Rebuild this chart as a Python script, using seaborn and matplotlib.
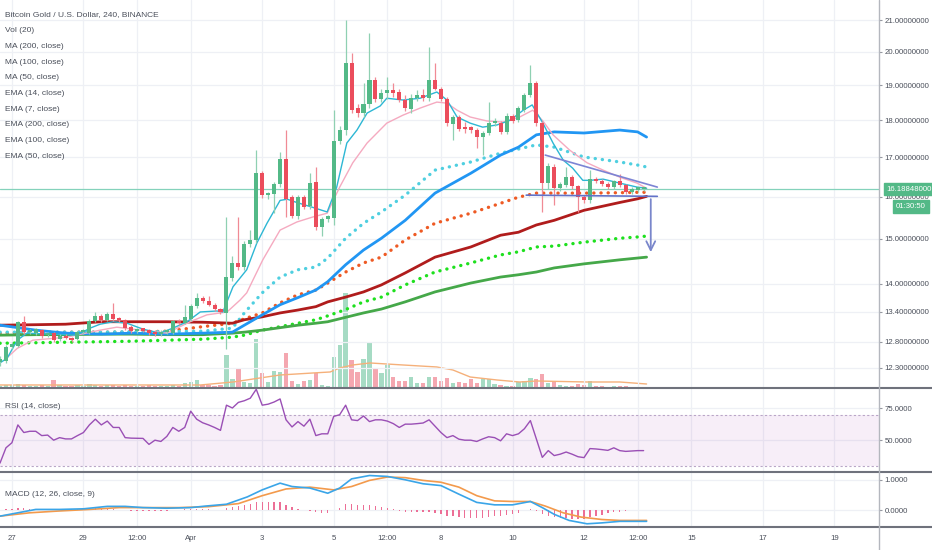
import numpy as np
import matplotlib
matplotlib.use("Agg")
import matplotlib.pyplot as plt
import matplotlib.transforms as mtransforms
from matplotlib.lines import Line2D
from matplotlib.ticker import NullLocator, FixedLocator, FixedFormatter
from matplotlib import font_manager
import seaborn as sns

# ---------------- data (4h candles, index 0 = Mar 26 16:00) ----------------
opens = [12.40, 12.42, 12.70, 12.72, 13.19, 12.99, 12.97, 13.03, 12.93, 12.97,
         12.85, 12.91, 12.87, 12.85, 12.99, 12.97, 13.21, 13.31, 13.23, 13.35,
         13.25, 13.23, 13.10, 13.01, 13.03, 13.03, 12.99, 12.95, 12.99, 12.97,
         13.21, 13.17, 13.25, 13.52, 13.70, 13.62, 13.55, 13.46, 13.38, 14.12,
         14.45, 14.36, 14.88, 14.97, 16.59, 16.04, 16.06, 16.31, 16.96, 15.99,
         15.53, 15.99, 15.77, 16.36, 15.27, 15.46, 15.48, 17.43, 17.73, 19.66,
         18.34, 18.20, 18.45, 19.15, 18.60, 18.77, 18.80, 18.80, 18.57, 18.31,
         18.63, 18.65, 18.63, 19.15, 18.89, 18.60, 17.90, 18.09, 17.76, 17.75,
         17.73, 17.54, 17.65, 17.92, 17.92, 17.68, 18.12, 18.00, 18.28, 18.71,
         19.06, 17.92, 16.34, 16.75, 16.21, 16.29, 16.49, 16.26, 15.99, 15.91,
         16.44, 16.39, 16.31, 16.24, 16.39, 16.29, 16.11, 16.17, 16.18]
highs = [12.52, 12.74, 12.80, 13.22, 13.31, 13.05, 13.08, 13.06, 13.00, 13.00,
         12.95, 12.95, 12.90, 13.02, 13.05, 13.25, 13.40, 13.36, 13.40, 13.58,
         13.30, 13.26, 13.14, 13.08, 13.07, 13.06, 13.03, 13.04, 13.05, 13.24,
         13.26, 13.55, 13.56, 13.80, 13.74, 13.74, 13.58, 13.49, 15.51, 14.60,
         15.51, 14.95, 15.20, 17.19, 16.65, 16.12, 16.36, 17.13, 17.73, 16.05,
         16.05, 16.05, 16.59, 16.75, 15.50, 15.55, 18.28, 17.85, 21.00, 19.97,
         18.45, 19.06, 20.59, 19.25, 18.90, 19.23, 19.05, 18.90, 18.70, 18.75,
         18.85, 18.90, 20.14, 19.66, 18.95, 18.65, 18.15, 18.15, 17.95, 17.85,
         17.80, 17.70, 18.51, 18.05, 17.98, 18.20, 18.18, 18.40, 18.78, 19.60,
         19.12, 17.98, 16.85, 16.82, 16.36, 16.75, 16.55, 16.30, 16.04, 16.67,
         16.50, 16.45, 16.36, 16.42, 16.57, 16.33, 16.24, 16.23, 16.22]
lows = [12.33, 12.38, 12.66, 12.70, 12.96, 12.95, 12.94, 12.88, 12.90, 12.80,
        12.82, 12.85, 12.80, 12.83, 12.96, 12.95, 13.19, 13.20, 13.21, 13.22,
        13.20, 13.04, 12.98, 12.98, 12.99, 12.94, 12.92, 12.92, 12.95, 12.95,
        13.14, 13.15, 13.22, 13.48, 13.58, 13.52, 13.43, 13.36, 12.66, 14.05,
        14.30, 14.30, 14.80, 14.90, 15.98, 15.95, 15.60, 16.25, 15.51, 15.48,
        15.45, 15.70, 15.70, 15.20, 15.06, 15.40, 15.32, 17.35, 17.60, 18.20,
        18.10, 18.10, 18.35, 18.50, 18.50, 18.60, 18.65, 18.50, 18.25, 18.20,
        18.55, 18.55, 18.55, 18.85, 18.55, 17.85, 17.46, 17.70, 17.65, 17.65,
        17.25, 17.06, 17.60, 17.85, 17.62, 17.62, 17.92, 17.95, 18.22, 18.65,
        17.85, 15.63, 16.20, 15.80, 16.15, 16.25, 16.20, 15.63, 15.85, 15.85,
        16.35, 16.27, 16.20, 16.20, 16.25, 16.06, 16.08, 16.13, 16.14]
closes = [12.47, 12.70, 12.74, 13.19, 12.99, 13.01, 13.05, 12.91, 12.97, 12.83,
          12.91, 12.87, 12.83, 12.99, 13.00, 13.21, 13.31, 13.23, 13.35, 13.25,
          13.23, 13.07, 13.01, 13.03, 13.02, 12.97, 12.95, 12.99, 13.00, 13.21,
          13.17, 13.29, 13.52, 13.70, 13.62, 13.55, 13.46, 13.40, 14.14, 14.45,
          14.36, 14.88, 14.97, 16.59, 16.04, 16.06, 16.31, 16.96, 15.94, 15.53,
          15.99, 15.74, 16.34, 15.27, 15.46, 15.48, 17.43, 17.73, 19.66, 18.28,
          18.20, 18.45, 19.15, 18.60, 18.77, 18.80, 18.78, 18.57, 18.34, 18.63,
          18.65, 18.63, 19.15, 18.89, 18.60, 17.92, 18.09, 17.76, 17.75, 17.73,
          17.54, 17.65, 17.92, 17.93, 17.68, 18.12, 17.98, 18.34, 18.71, 19.06,
          17.92, 16.34, 16.78, 16.21, 16.31, 16.49, 16.26, 15.99, 15.91, 16.44,
          16.39, 16.31, 16.24, 16.39, 16.29, 16.11, 16.19, 16.19, 16.19]
volume = [2, 3, 3, 4, 3, 2, 2, 3, 2, 8,
          3, 2, 2, 3, 2, 4, 3, 2, 3, 3,
          2, 3, 2, 2, 2, 3, 2, 2, 2, 3,
          2, 5, 6, 8, 3, 3, 2, 3, 33, 9,
          19, 6, 5, 49, 15, 6, 17, 16, 35, 7,
          4, 7, 8, 15, 3, 2, 31, 43, 95, 28,
          16, 29, 45, 20, 15, 23, 11, 7, 7, 11,
          5, 5, 11, 11, 7, 10, 5, 6, 5, 9,
          5, 9, 9, 4, 3, 2, 2, 6, 7, 10,
          9, 14, 5, 7, 3, 2, 2, 4, 3, 7,
          2, 2, 1, 2, 2, 2, 1, 1, 1]
vol_ma_x = [0, 33.6, 39.1, 47, 52.5, 55.4, 57, 59.2, 62.1, 67.6, 73.3, 76, 78.9, 83.4, 87.2, 90.1, 98.5, 104, 108.5]
vol_ma = [3, 3, 6, 13, 15, 16, 20, 23, 25, 23, 21, 18, 11, 8, 6, 7, 6, 6, 4]

# moving averages sampled along the chart (candle index, price)
ma_x = [0, 6, 11, 17, 22, 28, 34, 39, 41, 44, 47, 50, 53, 55, 58, 61, 64, 68, 73, 79, 84, 87, 90, 93, 98, 104, 107, 108.5]
ma50 = [13.13, 13.03, 12.97, 12.95, 12.97, 12.95, 12.97, 12.99, 13.13, 13.34, 13.55, 13.70, 13.86, 14.04,
        14.41, 14.74, 15.01, 15.43, 16.09, 16.59, 17.06, 17.27, 17.60, 17.68, 17.65, 17.73, 17.68, 17.54]
ma100 = [13.13, 13.14, 13.15, 13.20, 13.20, 13.20, 13.19, 13.17, 13.24, 13.30, 13.38, 13.44, 13.51, 13.61,
         13.71, 13.82, 13.97, 14.23, 14.58, 14.81, 15.08, 15.15, 15.32, 15.43, 15.67, 15.86, 15.95, 16.01]
ma200 = [12.93, 12.94, 12.94, 12.95, 12.95, 12.94, 12.94, 12.97, 12.99, 13.03, 13.08, 13.13, 13.17, 13.20,
         13.29, 13.38, 13.46, 13.61, 13.82, 14.01, 14.14, 14.19, 14.25, 14.34, 14.43, 14.52, 14.56, 14.58]
ema50 = [12.99, 12.99, 12.99, 12.99, 13.00, 13.00, 13.01, 13.07, 13.38, 13.80, 14.14, 14.30, 14.36, 14.56,
         15.01, 15.36, 15.63, 16.04, 16.67, 16.88, 17.11, 17.22, 17.33, 17.27, 17.01, 16.88, 16.80, 16.75]
ema100 = [12.97, 12.98, 12.99, 12.99, 12.99, 13.01, 13.10, 13.17, 13.26, 13.38, 13.59, 13.76, 13.86, 14.01,
          14.25, 14.45, 14.58, 14.97, 15.36, 15.60, 15.84, 15.99, 16.09, 16.09, 16.09, 16.10, 16.11, 16.11]
ema200 = [12.77, 12.78, 12.79, 12.80, 12.81, 12.83, 12.85, 12.89, 12.93, 13.03, 13.10, 13.17, 13.24, 13.32,
          13.45, 13.61, 13.71, 13.97, 14.25, 14.45, 14.63, 14.70, 14.81, 14.83, 14.92, 15.01, 15.04, 15.06]

ema7_x = [0, 1.2, 2.9, 4.5, 8.4, 12.9, 15.1, 16.8, 19, 21.3, 24, 26.8, 29, 31.4, 33.6, 36.4, 37.4, 39.1,
          41.4, 43.1, 44.8, 47, 48.2, 49.8, 52.5, 54.9, 56.5, 58.2, 59.9, 61.6, 63.8, 64.9, 67.6, 70.5,
          73.3, 75, 76.7, 78.9, 81, 83.4, 85.6, 87.8, 89.3, 91.1, 92.8, 94.5, 96.1, 97.8, 99, 101.2, 104,
          106.9, 108.5]
ema7 = [12.39, 12.48, 12.83, 12.97, 12.95, 12.93, 13.07, 13.15, 13.20, 13.17, 13.05, 12.97, 13.07, 13.20,
        13.40, 13.42, 13.40, 13.93, 14.30, 14.90, 15.36, 15.91, 15.94, 15.86, 15.74, 15.63, 16.24, 17.38,
        17.73, 18.20, 18.40, 18.62, 18.57, 18.62, 18.80, 18.57, 18.09, 17.92, 17.81, 17.87, 18.00, 18.28,
        18.43, 17.92, 17.38, 16.93, 16.72, 16.41, 16.41, 16.44, 16.34, 16.24, 16.21]
ema14_x = [0.8, 2.9, 5.5, 11.2, 16.8, 19.6, 22.3, 28, 31.9, 34.7, 38.1, 40.3, 41.4, 44.1, 47, 49.8, 52.5,
           54.9, 57, 59.2, 61.6, 64.9, 67.6, 70.5, 73.3, 75, 76.7, 78.9, 81.7, 84.4, 87.2, 89.4, 91.1,
           92.8, 95.6, 98.5, 101.2, 104, 106.9, 108.5]
ema14 = [12.45, 12.67, 12.83, 12.89, 13.03, 13.09, 13.05, 12.97, 13.20, 13.34, 13.40, 13.65, 13.80, 14.52,
         15.20, 15.39, 15.51, 15.60, 16.24, 16.86, 17.38, 17.92, 18.14, 18.34, 18.51, 18.48, 18.28, 18.09,
         17.98, 17.95, 18.09, 18.28, 17.98, 17.60, 17.19, 16.86, 16.67, 16.49, 16.34, 16.21]

last_price = 16.18848
countdown = '01:30:50'
# drawings on the chart
trend_x = [91.5, 110.3]
trend_y = [17.06, 16.24]
support_x = [88.3, 110.3]
support_y = [16.04, 16.01]
arrow_x = 109.2
arrow_from, arrow_to = 16.01, 14.63

rsi = [32, 44, 48, 62, 56, 57, 57, 53.6, 54, 50,
       52, 51, 51, 53.6, 56, 62, 66.5, 62, 65, 60,
       60, 52, 51.6, 51.5, 51.4, 46.7, 50, 49, 53, 60,
       57, 60, 72.8, 66.5, 63.7, 62, 60, 57.7, 77.5, 75.3,
       79.7, 81, 83, 90, 77.5, 78.3, 80, 82.4, 66, 60.4,
       64.6, 61, 66.5, 53.6, 55, 55, 68.7, 70, 77.5, 66,
       65.4, 69, 64.6, 66, 66, 65, 63, 60, 62.6, 62.6,
       63, 63.5, 66, 61, 56, 52, 53.6, 50.8, 50, 50,
       49, 51, 52.7, 52, 49.5, 55, 53.6, 55, 59, 65.4,
       51, 36.5, 41.8, 37.9, 39, 40.7, 39, 37, 36.3, 43.4,
       43.1, 42.6, 42, 44, 41.8, 41.2, 41.5, 41.8, 41.8]

macd_x = [0, 3, 6, 10, 14, 18, 21, 24, 28, 32, 34.5, 38, 41.5, 44, 47, 49, 52, 55, 57, 59,
          62, 65, 68, 71, 74, 77, 80, 83, 86, 89, 91, 93, 95.5, 98.5, 101, 104, 108.5]
macd = [-0.19, -0.08, 0.03, 0.03, 0.05, 0.13, 0.13, 0.09, 0.07, 0.09, 0.14, 0.2, 0.44, 0.67, 0.89,
        0.78, 0.73, 0.56, 0.73, 1.03, 1.14, 1.11, 1.0, 0.87, 0.81, 0.53, 0.26, 0.18, 0.18, 0.29,
        0.09, -0.13, -0.33, -0.44, -0.41, -0.36, -0.36]
signal_x = [0, 5, 10, 15, 20, 25, 30, 35, 40, 44, 48, 52, 56, 59, 62, 65, 68, 71, 74, 77, 80, 83,
            86, 89, 91.5, 94.5, 97.5, 101, 104, 108.5]
signal = [-0.19, -0.08, -0.02, 0.03, 0.09, 0.09, 0.09, 0.12, 0.22, 0.48, 0.7, 0.76, 0.67, 0.78, 0.98,
          1.09, 1.07, 0.98, 0.92, 0.76, 0.48, 0.31, 0.29, 0.29, 0.14, -0.08, -0.22, -0.3, -0.33, -0.33]
hist = [0.0, 0.04, 0.06, 0.08, 0.07, 0.06, 0.05, 0.05, 0.04, 0.03,
        0.03, 0.04, 0.05, 0.05, 0.06, 0.07, 0.07, 0.06, 0.05, 0.04,
        0.02, 0.0, -0.01, -0.02, -0.02, -0.03, -0.02, -0.02, -0.01, 0.01,
        0.02, 0.03, 0.05, 0.05, 0.04, 0.03, 0.02, 0.02, 0.08, 0.12,
        0.14, 0.18, 0.2, 0.26, 0.26, 0.27, 0.26, 0.28, 0.18, 0.1,
        0.06, 0.02, -0.02, -0.06, -0.08, -0.1, 0.0, 0.08, 0.2, 0.21,
        0.19, 0.18, 0.17, 0.14, 0.12, 0.08, 0.05, -0.02, -0.04, -0.06,
        -0.06, -0.05, -0.04, -0.08, -0.12, -0.18, -0.2, -0.23, -0.25, -0.25,
        -0.25, -0.24, -0.22, -0.2, -0.18, -0.14, -0.12, -0.08, 0.0, 0.04,
        -0.02, -0.12, -0.18, -0.22, -0.25, -0.26, -0.27, -0.28, -0.27, -0.22,
        -0.18, -0.14, -0.1, -0.07, -0.04, -0.02, 0.0, 0.01, 0.02]

price_ticks = [12.3, 12.8, 13.4, 14, 15, 16, 17, 18, 19, 20, 21]
date_tick_pos = [2, 14, 23, 32, 44, 56, 65, 74, 86, 98, 107, 116, 128, 140]
date_tick_lab = ['27', '29', '12:00', 'Apr', '3', '5', '12:00', '8', '10', '12', '12:00', '15', '17', '19']
legend_lines = ['Bitcoin Gold / U.S. Dollar, 240, BINANCE', 'Vol (20)', 'MA (200, close)',
                'MA (100, close)', 'MA (50, close)', 'EMA (14, close)', 'EMA (7, close)',
                'EMA (200, close)', 'EMA (100, close)', 'EMA (50, close)']

# ---------------- style ----------------
sns.set_style("white")
_names = {f.name for f in font_manager.fontManager.ttflist}
if 'Liberation Sans Narrow' in _names:
    plt.rcParams['font.family'] = ['Liberation Sans Narrow', 'DejaVu Sans']
    FS_AX, FS_TXT = 6.8, 7.0
else:
    plt.rcParams['font.family'] = ['Liberation Sans', 'DejaVu Sans']
    FS_AX, FS_TXT = 5.6, 6.0
TXT = '#4a4f5a'
GRID = '#eef0f5'
UP, DN = '#53b987', '#eb4d5c'
VUP, VDN = '#a6dbc4', '#f4a7b0'

W, H = 932, 550
fig = plt.figure(figsize=(W / 100, H / 100), dpi=100)
RIGHT = 879


def rect(top, bottom):
    return [0, 1 - bottom / H, RIGHT / W, (bottom - top) / H]


ax_vol = fig.add_axes(rect(0, 388))
ax = fig.add_axes(rect(0, 388), sharex=ax_vol)
ax_rsi = fig.add_axes(rect(388, 472), sharex=ax_vol)
ax_macd = fig.add_axes(rect(472, 527), sharex=ax_vol)
ax.set_facecolor('none')

o = np.array(opens); h = np.array(highs); l = np.array(lows); c = np.array(closes)
idx = np.arange(len(c))
up = c >= o

# volume
ax_vol.bar(idx, volume, width=0.72, color=np.where(up, VUP, VDN), linewidth=0)
sns.lineplot(x=vol_ma_x, y=vol_ma, ax=ax_vol, color='#f5b07a', linewidth=1.0)
ax_vol.set_ylim(0, max(volume) * 4.08)
ax_vol.set_xlim(0, 147.5)
ax_vol.axis('off')

# price pane
ax.set_yscale('log')
ax.set_ylim(11.92, 21.66)
ax.yaxis.set_major_locator(FixedLocator(price_ticks))
ax.yaxis.set_major_formatter(FixedFormatter(['%.8f' % t for t in price_ticks]))
ax.yaxis.set_minor_locator(NullLocator())
ax.axhline(last_price, color='#84d2bb', linewidth=0.9, zorder=2)

sns.lineplot(x=ma_x, y=ema200, ax=ax, color='#1ee01e', linewidth=2.4, linestyle=(0, (0.05, 2.1)),
             dash_capstyle='round', zorder=3)
sns.lineplot(x=ma_x, y=ema100, ax=ax, color='#ee5a24', linewidth=2.4, linestyle=(0, (0.05, 2.1)),
             dash_capstyle='round', zorder=3)
sns.lineplot(x=ma_x, y=ema50, ax=ax, color='#4fcfe0', linewidth=2.4, linestyle=(0, (0.05, 2.1)),
             dash_capstyle='round', zorder=3)
sns.lineplot(x=ma_x, y=ma200, ax=ax, color='#45a849', linewidth=2.0, zorder=3)
sns.lineplot(x=ma_x, y=ma100, ax=ax, color='#b01c1c', linewidth=2.0, zorder=3)
sns.lineplot(x=ma_x, y=ma50, ax=ax, color='#2196f3', linewidth=2.0, zorder=3)
sns.lineplot(x=ema14_x, y=ema14, ax=ax, color='#f5aac0', linewidth=1.0, zorder=3)
sns.lineplot(x=ema7_x, y=ema7, ax=ax, color='#2db7d4', linewidth=1.0, zorder=3)

ax.vlines(idx, l, h, colors=np.where(up, '#8fd0b2', '#f08a95'), linewidth=0.9, zorder=4)
body_h = np.maximum(np.abs(c - o), 0.004 * c)
ax.bar(idx, body_h, bottom=np.minimum(o, c), width=0.68, color=np.where(up, UP, DN), linewidth=0, zorder=5)

ax.plot(trend_x, trend_y, color='#7c84d4', linewidth=1.2, zorder=6)
ax.plot(support_x, support_y, color='#6272c8', linewidth=1.2, zorder=6)
ax.annotate('', xy=(arrow_x, arrow_to), xytext=(arrow_x, arrow_from),
            arrowprops=dict(arrowstyle='->', color='#7986cb', lw=1.3, mutation_scale=16), zorder=6)

# price labels on axis
bt = mtransforms.blended_transform_factory(ax.transAxes, ax.transData)
ax.text(1.0085, last_price, '16.18848000', transform=bt, ha='left', va='center', color='white',
        fontsize=FS_AX, clip_on=False, zorder=10,
        bbox=dict(boxstyle='square,pad=0.35', fc=UP, ec=UP))
ax.annotate(countdown, xy=(1.0 + 32 / RIGHT, last_price), xycoords=bt, xytext=(0, -12.5),
            textcoords='offset points', ha='center', va='center', color='white', fontsize=FS_AX,
            annotation_clip=False, zorder=10,
            bbox=dict(boxstyle='square,pad=0.4', fc=UP, ec=UP))

# RSI pane
ax_rsi.axhspan(30, 70, color='#9c27b0', alpha=0.08, linewidth=0)
for lv in (70, 30):
    ax_rsi.axhline(lv, color='#b9a6c7', linewidth=0.8, linestyle=(0, (2, 2)))
sns.lineplot(x=idx, y=rsi, ax=ax_rsi, color='#9a4fb5', linewidth=1.0)
ax_rsi.set_ylim(25, 91)
ax_rsi.yaxis.set_major_locator(FixedLocator([50, 75]))
ax_rsi.yaxis.set_major_formatter(FixedFormatter(['50.0000', '75.0000']))

# MACD pane
ax_macd.bar(idx, hist, width=0.22, color='#ec6f96', linewidth=0)
sns.lineplot(x=signal_x, y=signal, ax=ax_macd, color='#f39a4c', linewidth=1.2)
sns.lineplot(x=macd_x, y=macd, ax=ax_macd, color='#3aa5e8', linewidth=1.2)
ax_macd.set_ylim(-0.545, 1.255)
ax_macd.yaxis.set_major_locator(FixedLocator([0, 1]))
ax_macd.yaxis.set_major_formatter(FixedFormatter(['0.0000', '1.0000']))

for a in (ax, ax_rsi, ax_macd):
    a.set_xlim(0, 147.5)
    a.set_xticks(date_tick_pos)
    a.yaxis.tick_right()
    a.tick_params(axis='y', right=True, length=2.5, width=0.8, color='#9598a1', pad=1.5,
                  labelsize=FS_AX, labelcolor=TXT)
    a.grid(True, color=GRID, linewidth=0.9)
    a.set_axisbelow(True)
    for s in a.spines.values():
        s.set_visible(False)
    a.set_xlabel('')
    a.set_ylabel('')
for a in (ax, ax_rsi):
    a.tick_params(axis='x', length=0, labelbottom=False)
ax_macd.set_xticklabels(date_tick_lab)
ax_macd.tick_params(axis='x', length=0, pad=6, labelsize=FS_AX, labelcolor=TXT)

# separators and price-axis line
for yy in (388, 472, 527):
    fig.add_artist(Line2D([0, 1], [1 - yy / H] * 2, color='#6f727c', linewidth=1.5, transform=fig.transFigure))
fig.add_artist(Line2D([RIGHT / W] * 2, [0, 1], color='#b4b7be', linewidth=1.0, transform=fig.transFigure))

# legend texts
for k, s in enumerate(legend_lines):
    fig.text(5 / W, 1 - (15 + 15.7 * k) / H, s, ha='left', va='center', fontsize=FS_TXT, color=TXT)
fig.text(5 / W, 1 - 407 / H, 'RSI (14, close)', ha='left', va='center', fontsize=FS_TXT, color=TXT)
fig.text(5 / W, 1 - 494 / H, 'MACD (12, 26, close, 9)', ha='left', va='center', fontsize=FS_TXT, color=TXT)

fig.savefig('out.png', dpi=100, facecolor='white')
